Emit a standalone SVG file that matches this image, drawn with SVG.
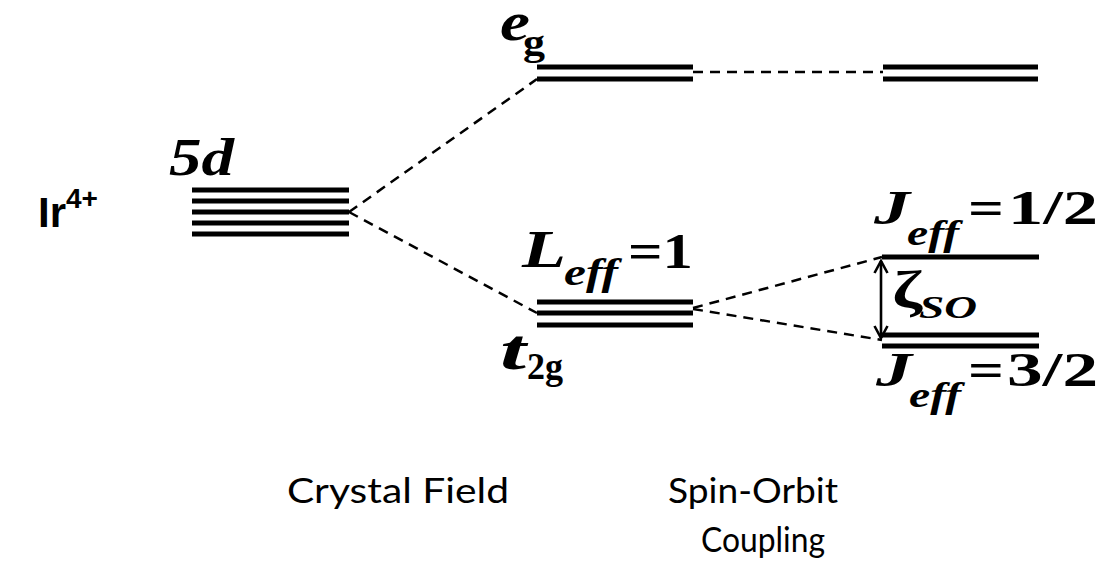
<svg xmlns="http://www.w3.org/2000/svg" width="1101" height="564" viewBox="0 0 1101 564">
<defs>
<style>
.lvl{stroke:#000;stroke-width:5;fill:none}
.dash{stroke:#000;stroke-width:2.5;fill:none;stroke-dasharray:10 7}
.bi{font-family:"Liberation Serif","Times New Roman",serif;font-weight:bold;font-style:italic;fill:#000}
.b{font-family:"Liberation Serif","Times New Roman",serif;font-weight:bold;fill:#000}
.cap{font-family:"Comic Sans MS",Lato,sans-serif;font-size:35px;fill:#000}
.ir{font-family:"Liberation Sans",Arial,sans-serif;font-weight:bold;fill:#000}
</style>
<marker id="ah" viewBox="0 0 16 16" refX="14" refY="8" markerWidth="16" markerHeight="16" markerUnits="userSpaceOnUse" orient="auto-start-reverse">
<path d="M2,1.5 L14,8 L2,14.5" fill="none" stroke="#000" stroke-width="2.6"/>
</marker>
</defs>
<rect width="1101" height="564" fill="#fff"/>

<g id="ion">
<text class="ir" x="38" y="227" font-size="42">Ir<tspan font-size="28" dy="-19">4+</tspan></text>
</g>

<g id="level-5d">
<path class="lvl" d="M192,190H349M192,201H349M192,212H349M192,223H349M192,234H349"/>
<text class="bi" x="169" y="175" font-size="52" textLength="65" lengthAdjust="spacingAndGlyphs">5d</text>
</g>

<g id="level-eg">
<path class="lvl" d="M537,67H693M537,79H693"/>
<text class="bi" x="500" y="40" font-size="54" textLength="30" lengthAdjust="spacingAndGlyphs">e</text>
<text class="b" x="523" y="55" font-size="38" textLength="22" lengthAdjust="spacingAndGlyphs">g</text>
</g>

<g id="level-t2g">
<path class="lvl" d="M537,302H693M537,313H693M537,325H693"/>
<text class="bi" x="522" y="267" font-size="52" textLength="44" lengthAdjust="spacingAndGlyphs">L</text>
<text class="bi" x="564" y="285" font-size="38" textLength="54" lengthAdjust="spacingAndGlyphs">eff</text>
<text class="b" x="628" y="268" font-size="50" textLength="65" lengthAdjust="spacingAndGlyphs">=1</text>
<text class="bi" x="500" y="369" font-size="56" textLength="26" lengthAdjust="spacingAndGlyphs">t</text>
<text class="b" x="527" y="379" font-size="38" textLength="36" lengthAdjust="spacingAndGlyphs">2g</text>
</g>

<g id="level-eg-so">
<path class="lvl" d="M883,67H1038M883,79H1038"/>
</g>

<g id="level-j12">
<path class="lvl" d="M882,257H1039"/>
<text class="bi" x="874" y="224" font-size="48" textLength="36" lengthAdjust="spacingAndGlyphs">J</text>
<text class="bi" x="907" y="245" font-size="36" textLength="52" lengthAdjust="spacingAndGlyphs">eff</text>
<text class="b" x="968" y="224" font-size="48" textLength="36" lengthAdjust="spacingAndGlyphs">=</text>
<text class="b" x="1008" y="224" font-size="48" textLength="90" lengthAdjust="spacingAndGlyphs">1/2</text>
</g>

<g id="level-j32">
<path class="lvl" d="M882,335H1039M882,346H1039"/>
<text class="bi" x="876" y="386" font-size="48" textLength="36" lengthAdjust="spacingAndGlyphs">J</text>
<text class="bi" x="909" y="407" font-size="36" textLength="52" lengthAdjust="spacingAndGlyphs">eff</text>
<text class="b" x="968" y="386" font-size="48" textLength="36" lengthAdjust="spacingAndGlyphs">=</text>
<text class="b" x="1007" y="386" font-size="48" textLength="91" lengthAdjust="spacingAndGlyphs">3/2</text>
</g>

<g id="connectors">
<path class="dash" d="M349,212L537,79"/>
<path class="dash" d="M349,212L537,313"/>
<path class="dash" d="M693,72L883,72"/>
<path class="dash" d="M693,308L882,257"/>
<path class="dash" d="M693,309L882,340"/>
<line x1="881" y1="261" x2="881" y2="338" stroke="#000" stroke-width="2.6" marker-start="url(#ah)" marker-end="url(#ah)"/>
</g>

<g id="zeta">
<text class="b" x="892" y="307" font-size="52" textLength="30" lengthAdjust="spacingAndGlyphs">ζ</text>
<text class="bi" x="919" y="318" font-size="32" textLength="58" lengthAdjust="spacingAndGlyphs">SO</text>
</g>

<g id="captions">
<text class="cap" x="287" y="503" textLength="222" lengthAdjust="spacingAndGlyphs">Crystal Field</text>
<text class="cap" x="668" y="503" textLength="170" lengthAdjust="spacingAndGlyphs">Spin-Orbit</text>
<text class="cap" x="701" y="552" textLength="124" lengthAdjust="spacingAndGlyphs">Coupling</text>
</g>
</svg>
